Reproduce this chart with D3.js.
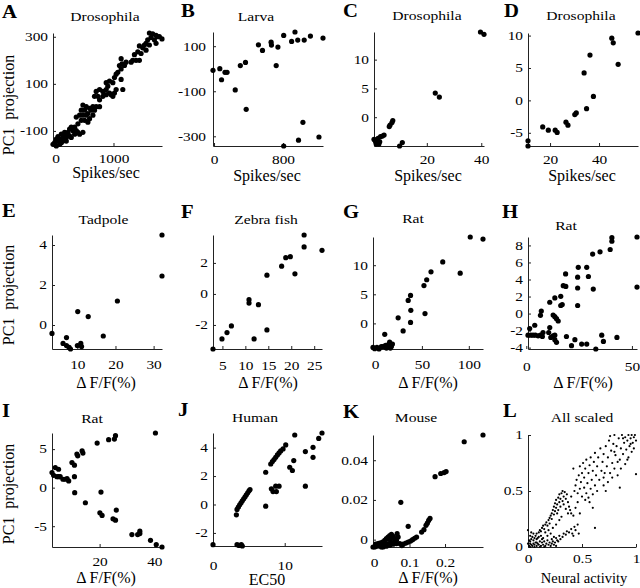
<!DOCTYPE html>
<html><head><meta charset="utf-8">
<script src="https://cdn.jsdelivr.net/npm/d3@7"></script>
<style>
body{margin:0;background:#fff}
svg{display:block}
text{font-family:"Liberation Serif","Times New Roman",serif;fill:#000}
</style>
</head><body>
<svg id="chart" width="640" height="588"></svg>
<script>
// ---------- data ----------
const panelIds = ["A","B","C","D","E","F","G","H","I","J","K","L"];
const titles = ["Drosophila","Larva","Drosophila","Drosophila","Tadpole","Zebra fish","Rat","Rat","Rat","Human","Mouse","All scaled"];
const xLabels = ["Spikes/sec","Spikes/sec","Spikes/sec","Spikes/sec","\u0394 F/F(%)","\u0394 F/F(%)","\u0394 F/F(%)","\u0394 F/F(%)","\u0394 F/F(%)","EC50","\u0394 F/F(%)","Neural activity"];
const yLabel = "PC1  projection";
const xTicks = [[0,1000],[0,800],[20,40],[20,40],[10,20,30],[5,10,15,20,25],[0,50,100],[0,50],[20,40],[0,10],[0,0.1,0.2],[0,0.5,1]];
const yTicks = [[-100,100,300],[-300,-100,100],[0,5,10],[-5,0,5,10],[0,2,4],[-2,0,2],[0,5,10],[-4,-2,0,2,4,6,8],[-5,0,5],[-2,0,2,4],[0,0.02,0.04],[0,0.5,1]];

const dataA = [[1621,316],[1678,312],[1736,306],[1793,301],[1839,291],[1649,297],[1707,287],[1592,287],[1563,272],[1621,265],[1563,243],[1506,253],[1448,261],[1420,236],[1362,224],[1333,200],[1305,192],[1391,200],[1448,200],[1132,207],[1149,185],[1103,178],[1132,163],[1075,149],[1046,141],[1132,119],[1161,76],[1017,127],[989,105],[931,112],[874,105],[902,90],[874,76],[816,68],[874,54],[931,61],[989,47],[960,54],[759,76],[701,68],[759,32],[730,47],[672,47],[701,3],[644,3],[586,-4],[529,3],[471,10],[443,-12],[500,-12],[557,-26],[471,-33],[414,-33],[356,-41],[443,-55],[385,-70],[328,-84],[270,-84],[299,-99],[241,-92],[213,-106],[184,-114],[155,-121],[126,-128],[69,-135],[40,-143],[11,-135],[-17,-150],[-46,-157],[11,-164],[69,-157],[126,-143],[184,-128],[241,-121],[328,-114],[270,-128],[385,-106],[414,-114],[356,-99],[500,-55],[557,-63],[586,-48],[644,-33],[672,-12],[471,-106],[184,-143],[98,-150],[40,-124],[98,-113],[155,-106],[529,-33],[615,-12],[759,3],[816,47],[1017,61],[1046,76],[1190,178],[1218,192],[1477,229],[1534,265],[1764,300],[1736,272]];
const dataB = [[-12,-7],[67,0],[87,-49],[127,-16],[151,-16],[246,-94],[305,14],[365,28],[373,-180],[515,106],[562,81],[662,118],[666,105],[741,96],[721,14],[808,148],[808,-343],[900,121],[939,163],[971,127],[1046,127],[980,-317],[1031,-238],[1118,145],[1217,-303],[1264,136]];
const dataC = [[0.6,-3.84],[1.2,-4.26],[1.4,-4.66],[2.1,-3.67],[2.4,-4.66],[3.0,-3.38],[3.7,-3.26],[4.3,-3.09],[2.7,-4.26],[0.9,-3.96],[6.2,-1.63],[6.5,-1.35],[7.2,-0.94],[7.5,-0.58],[10.0,-5.0],[11.0,-4.4],[23.1,4.19],[24.6,3.49],[39.7,14.8],[41.0,14.4]];
const dataD = [[11.0,-6.23],[11.0,-7.04],[17.0,-4.09],[19.3,-4.59],[22.1,-4.59],[22.9,-4.95],[26.5,-3.37],[27.3,-3.83],[30.1,-2.19],[30.7,-1.94],[34.9,-1.28],[33.9,4.24],[36.3,7.0],[37.7,0.61],[45.2,9.6],[45.8,8.88],[47.8,5.56],[55.9,10.4]];
const dataE = [[3.35,-0.42],[6.25,-0.92],[7.15,-0.63],[7.15,-1.03],[7.84,-1.12],[8.2,-1.2],[10,-1.03],[10.9,-0.92],[11.1,-1.08],[10.1,0.67],[12.85,0.42],[16.8,-0.55],[20.5,1.2],[32.2,4.5],[32.2,2.45]];
const dataF = [[2.95,-3.55],[4.9,-2.9],[6.0,-2.49],[6.96,-2.06],[10.8,-0.37],[10.8,-0.59],[11.9,-2.9],[12.85,-0.69],[14.7,1.21],[14.7,-2.32],[17.9,1.79],[18.8,2.34],[19.8,2.4],[20.8,1.3],[22.8,3.8],[22.8,3.03],[26.7,2.81]];
const dataG = [[-2.1,-4.13],[-0.3,-4.36],[2.1,-4.13],[4.3,-4.4],[6.8,-4.0],[9.3,-3.95],[11.4,-3.78],[12.2,-4.24],[10.4,-1.87],[13.9,-3.67],[15.6,-3.22],[17.5,-3.95],[18.6,-3.56],[16.4,-4.24],[24.7,0.95],[30,-1.3],[35.4,3.95],[37.9,4.8],[38.2,2.25],[37.9,0.17],[52.2,6.5],[55.1,7.5],[53.3,1.69],[59.7,8.86],[72.2,10.56],[90.8,8.64],[101.5,14.85],[115.1,14.5]];
const dataH = [[40.5,8.91],[40.5,8.49],[39.7,7.52],[34.9,7.25],[31.4,6.98],[28.6,5.43],[24.6,5.43],[29.4,4.35],[24.3,4.27],[18.6,4.66],[17.5,3.27],[18.7,3.19],[24.3,3.0],[31.7,2.88],[16.3,2.03],[13.5,1.84],[17.0,1.06],[16.3,0.95],[11.1,1.33],[24.3,0.95],[7.1,0.29],[6.7,-0.21],[12.7,-0.17],[13.5,-0.37],[14.3,-0.6],[15.1,-0.87],[1.6,-1.76],[4.0,-1.37],[0.8,-2.54],[2.1,-2.54],[3.2,-2.54],[4.3,-2.54],[5.6,-2.61],[6.7,-2.54],[7.6,-2.69],[7.9,-2.22],[10.6,-2.22],[11.1,-1.64],[11.6,-2.8],[12.7,-2.61],[13.5,-2.54],[13.5,-3.07],[14.3,-3.38],[19.0,-2.69],[23.0,-3.07],[21.4,-3.77],[26.2,-3.58],[28.6,-3.58],[32.9,-4.16],[35.7,-2.54],[36.5,-3.27],[42.9,-2.8],[52.4,8.99],[52.4,3.11]];
const dataI = [[2.6,1.96],[3.2,1.6],[3.8,2.6],[4.4,1.43],[5.0,1.43],[5.0,2.39],[5.6,1.43],[6.6,1.09],[7.4,1.09],[8.1,1.17],[8.7,0.87],[9.9,3.26],[10.8,2.91],[10.8,1.43],[10.9,-0.65],[11.7,4.35],[12.0,4.13],[13.6,4.78],[13.9,4.48],[14.8,-1.96],[19.1,5.78],[20.5,-0.57],[20.1,-3.26],[20.9,-3.61],[23.3,6.22],[25.4,6.3],[25.8,6.74],[24.9,-4.04],[25.8,-4.22],[26.1,-2.91],[31.8,-6.09],[33.9,-6.09],[34.7,-5.65],[34.7,-5.96],[38.6,-6.83],[40.4,7.09],[40.7,-7.39],[42.8,-7.7]];
const dataJ = [[0,-2.83],[3.35,-2.83],[3.63,-2.88],[3.95,-2.83],[4.09,-2.92],[3.26,-0.73],[3.35,-0.35],[3.53,-0.19],[3.72,-0.02],[3.91,0.12],[4.09,0.26],[4.28,0.40],[4.47,0.54],[4.65,0.68],[4.84,0.82],[5.02,0.96],[5.16,1.05],[7.35,2.27],[7.35,-0.12],[8.05,2.85],[8.28,3.02],[8.51,3.16],[8.74,3.32],[8.98,3.49],[9.21,3.63],[9.44,3.77],[9.77,3.91],[10.14,4.19],[11.4,4.89],[8.14,1.1],[8.37,0.91],[8.74,1.29],[8.84,0.91],[9.21,1.29],[10.7,2.62],[11.07,2.39],[11.26,3.09],[12.88,3.72],[12.88,1.29],[13.95,4.02],[13.95,3.32],[14.74,4.65],[15.2,5.03]];
const dataK = [[0.0019,-0.0037],[0.0085,-0.0033],[0.0142,-0.0030],[0.0208,-0.0037],[0.0255,-0.0030],[0.0302,-0.0023],[0.0349,-0.0033],[0.0397,-0.0020],[0.0444,-0.0028],[0.0491,-0.0017],[0.0538,-0.0023],[0.0585,-0.0012],[0.0633,-0.0020],[0.0161,-0.0017],[0.0236,-0.0012],[0.0302,-0.0003],[0.0349,0.0005],[0.0397,0.0013],[0.0444,0.0020],[0.0491,0.0027],[0.0538,0.0017],[0.0585,0.0005],[0.0633,-0.0003],[0.0680,0.0013],[0.0652,0.0030],[0.0463,0.0],[0.0255,-0.0037],[0.0113,-0.0020],[0.0047,-0.0023],[0.0727,-0.0020],[0.0784,-0.0030],[0.0822,-0.0023],[0.0897,-0.0017],[0.0963,-0.0012],[0.1029,-0.0007],[0.1086,0.0],[0.1143,0.0007],[0.1199,0.0013],[0.1341,0.0038],[0.1407,0.0050],[0.1464,0.0072],[0.1501,0.0083],[0.1539,0.0097],[0.1577,0.0107],[0.0963,0.0067],[0.0755,0.0188],[0.1719,0.0317],[0.1879,0.0333],[0.1974,0.0338],[0.2030,0.0343],[0.2540,0.0493],[0.3069,0.0527],[-0.0028,-0.0037]];
const dataL = [[0.01,0.01],[0.02,0.0],[0.03,0.02],[0.0,0.03],[0.04,0.01],[0.05,0.03],[0.02,0.05],[0.06,0.02],[0.07,0.04],[0.03,0.07],[0.08,0.01],[0.09,0.03],[0.05,0.06],[0.1,0.02],[0.11,0.05],[0.04,0.09],[0.06,0.08],[0.12,0.01],[0.13,0.04],[0.08,0.07],[0.01,0.06],[0.02,0.1],[0.07,0.1],[0.09,0.08],[0.14,0.02],[0.15,0.05],[0.1,0.09],[0.03,0.13],[0.0,0.15],[0.05,0.12],[0.16,0.01],[0.17,0.03],[0.18,0.06],[0.12,0.1],[0.14,0.08],[0.19,0.02],[0.2,0.04],[0.21,0.01],[0.22,0.03],[0.23,0.05],[0.24,0.02],[0.25,0.04],[0.26,0.01],[0.27,0.06],[0.06,0.0],[0.11,0.0],[0.15,0.0],[0.08,0.04],[0.13,0.07],[0.02,0.03],
[0.08,0.12],[0.1,0.13],[0.11,0.15],[0.12,0.14],[0.13,0.17],[0.14,0.19],[0.15,0.16],[0.16,0.2],[0.17,0.22],[0.18,0.19],[0.19,0.24],[0.2,0.21],[0.2,0.26],[0.21,0.28],[0.22,0.25],[0.22,0.3],[0.23,0.33],[0.24,0.29],[0.24,0.36],[0.25,0.32],[0.25,0.39],[0.26,0.35],[0.26,0.42],[0.27,0.3],[0.27,0.38],[0.28,0.44],[0.28,0.33],[0.29,0.4],[0.29,0.47],[0.3,0.36],[0.3,0.43],[0.31,0.48],[0.32,0.41],[0.32,0.5],[0.33,0.45],[0.34,0.49],[0.33,0.38],[0.35,0.43],[0.36,0.47],[0.37,0.4],[0.38,0.36],[0.39,0.33],[0.4,0.3],[0.37,0.3],[0.35,0.34],[0.31,0.27],[0.29,0.24],[0.26,0.2],[0.23,0.17],[0.21,0.12],[0.18,0.1],[0.16,0.13],[0.19,0.15],
[0.26,0.08],[0.28,0.05],[0.3,0.07],[0.29,0.1],[0.32,0.09],[0.33,0.12],[0.35,0.11],[0.36,0.14],[0.38,0.13],[0.4,0.16],[0.41,0.12],[0.43,0.18],[0.44,0.15],[0.46,0.2],[0.24,0.09],[0.22,0.07],[0.47,0.12],[0.62,0.17],[0.42,0.1],
[0.42,0.7],[0.44,0.55],[0.45,0.6],[0.46,0.48],[0.47,0.64],[0.48,0.52],[0.48,0.72],[0.49,0.58],[0.5,0.45],[0.5,0.66],[0.51,0.75],[0.52,0.53],[0.52,0.62],[0.53,0.7],[0.54,0.48],[0.54,0.78],[0.55,0.57],[0.56,0.66],[0.56,0.44],[0.57,0.73],[0.58,0.52],[0.58,0.8],[0.59,0.6],[0.6,0.68],[0.6,0.47],[0.61,0.76],[0.62,0.55],[0.62,0.84],[0.63,0.64],[0.64,0.72],[0.64,0.5],[0.65,0.8],[0.66,0.6],[0.67,0.88],[0.68,0.68],[0.69,0.76],[0.7,0.62],[0.7,0.83],[0.53,0.42],[0.57,0.4],[0.46,0.4],[0.44,0.35],[0.48,0.3],[0.42,0.28],[0.4,0.45],[0.43,0.5],
[0.72,0.9],[0.73,0.72],[0.74,0.8],[0.75,0.95],[0.76,0.66],[0.77,0.86],[0.78,0.75],[0.79,0.92],[0.8,0.7],[0.8,1.0],[0.81,0.82],[0.82,0.9],[0.83,0.64],[0.84,0.97],[0.85,0.78],[0.85,0.53],[0.86,0.88],[0.87,1.0],[0.88,0.83],[0.89,0.93],[0.9,0.74],[0.9,0.98],[0.91,0.87],[0.92,0.95],[0.93,0.8],[0.93,1.0],[0.94,0.9],[0.95,0.97],[0.96,0.85],[0.96,1.0],[0.97,0.93],[0.98,0.98],[0.98,0.88],[0.99,1.0],[1.0,0.95],[1.0,0.65],[0.88,0.97],[0.76,0.99],[0.78,0.62],[0.74,0.58],[0.71,0.66],[0.83,0.76],[0.95,0.92],[0.92,0.78],[0.86,0.7],[0.8,0.85],[0.7,0.55],[0.72,0.5],[0.6,0.35]];

const panelData = [dataA,dataB,dataC,dataD,dataE,dataF,dataG,dataH,dataI,dataJ,dataK,dataL];

// ---------- layout (pixels) ----------
// box: [left, right, top, bottom]; title/xlab: [cx, baseline]; letter: [x, baseline]
const layout = {
  A:{box:[53,162,33,146], title:[105,20.5], xlab:[106,178], letter:[2,18], xPad:9, yPad:5, r:2.6},
  B:{box:[213,323,32,146], title:[256,20.5], xlab:[267,181], letter:[181,17], xPad:10, yPad:7, r:2.6},
  C:{box:[374,484,32,146], title:[427,20], xlab:[428,181], letter:[343,17], xPad:10.5, yPad:5, r:2.6},
  D:{box:[528,638,33,146], title:[581,20], xlab:[582,181], letter:[504,17], xPad:10, yPad:5, r:2.6},
  E:{box:[52,162,235,349], title:[103.5,224], xlab:[106,388], letter:[2,217], xPad:12, yPad:5, r:2.6},
  F:{box:[213,322,235,349], title:[266,224], xlab:[268,388], letter:[181,218], xPad:13, yPad:5, r:2.6},
  G:{box:[373,483,237,349], title:[413,223], xlab:[428,388], letter:[343,218], xPad:12, yPad:5, r:2.6},
  H:{box:[528,637,237,349], title:[566,230], xlab:[583,388], letter:[502,218], xPad:14, yPad:5, r:2.6},
  I:{box:[52,162,433,547], title:[92,422.5], xlab:[106,583], letter:[2,417], xPad:11.5, yPad:5, r:2.6},
  J:{box:[213,322,433,546], title:[255,422], xlab:[267,585], letter:[178,416], xPad:16, yPad:5, r:2.6},
  K:{box:[373,483,435,547], title:[416,422], xlab:[428,583], letter:[343,418], xPad:12, yPad:5, r:2.6},
  L:{box:[528,636,435,547], title:[582,421.5], xlab:[584,583], letter:[503,417], xPad:8, yPad:5, r:1.1}
};
const yLabelPos = [[14,105],[14,295],[14,494]];

// ---------- drawing ----------
const svg = d3.select("#chart");
const TICK_FS = 12, TICK_SX = 1.28, TITLE_FS = 13, TITLE_SX = 1.2, LETTER_SX = 1.15;

function stretchText(sel, sx){
  sel.each(function(){
    const t = d3.select(this);
    const x = +t.attr("x") || 0, y = +t.attr("y") || 0;
    t.attr("x", null).attr("y", null)
     .attr("transform", `translate(${x},${y}) scale(${sx},1)`);
  });
}

panelIds.forEach((id, i) => {
  const L = layout[id];
  const data = panelData[i];
  const [left, right, top, bottom] = L.box;
  const x = d3.scaleLinear().domain(d3.extent(data, d => d[0])).range([left, right]);
  const y = d3.scaleLinear().domain(d3.extent(data, d => d[1])).range([bottom, top]);
  const g = svg.append("g").attr("class", "panel-" + id);

  const fmt = d => String(d);
  const gx = g.append("g")
    .attr("transform", `translate(0,${bottom})`)
    .call(d3.axisBottom(x).tickValues(xTicks[i]).tickSize(-3).tickSizeOuter(0).tickPadding(L.xPad - 0.7).tickFormat(fmt));
  const gy = g.append("g")
    .attr("transform", `translate(${left},0)`)
    .call(d3.axisLeft(y).tickValues(yTicks[i]).tickSize(-3).tickSizeOuter(0).tickPadding(L.yPad).tickFormat(fmt));
  [gx, gy].forEach(ax => {
    ax.attr("color", "#222").attr("font-size", TICK_FS).attr("font-family", null);
    ax.select(".domain").attr("stroke-width", 1);
    ax.selectAll("text").attr("fill", "#000");
    stretchText(ax.selectAll("text"), TICK_SX);
  });

  g.append("g").selectAll("circle").data(data).join("circle")
    .attr("cx", d => x(d[0])).attr("cy", d => y(d[1]))
    .attr("r", L.r).attr("fill", "#000");

  // title
  g.append("text").attr("text-anchor", "middle").attr("font-size", TITLE_FS)
    .attr("transform", `translate(${L.title[0]},${L.title[1]}) scale(${TITLE_SX},1)`)
    .text(titles[i]);
  // x label
  g.append("text").attr("text-anchor", "middle")
    .attr("font-size", id === "L" ? 14.5 : 16)
    .attr("x", L.xlab[0]).attr("y", L.xlab[1])
    .text(xLabels[i]);
  // panel letter
  g.append("text").attr("font-weight", "bold").attr("font-size", 18)
    .attr("transform", `translate(${L.letter[0]},${L.letter[1]}) scale(${LETTER_SX},1)`)
    .text(id);
});

yLabelPos.forEach(p => {
  svg.append("text").attr("text-anchor", "middle").attr("font-size", 16)
    .style("white-space", "pre")
    .attr("transform", `translate(${p[0]},${p[1]}) rotate(-90)`)
    .text(yLabel);
});
</script>
</body></html>
